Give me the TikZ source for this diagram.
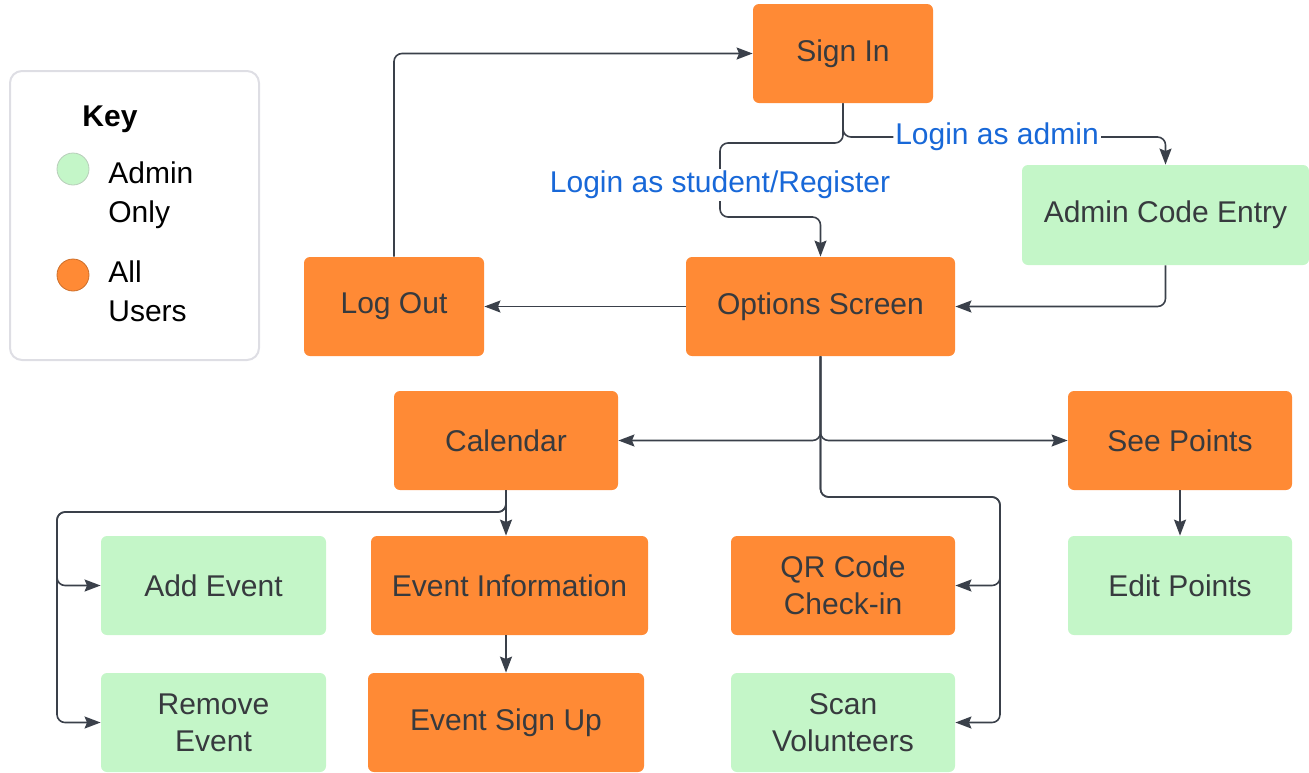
\documentclass[tikz,border=0pt]{standalone}
\usepackage{fontspec}
\setmainfont{Liberation Sans}
\usetikzlibrary{arrows.meta}
\definecolor{allorange}{RGB}{255,138,53}
\definecolor{admingreen}{RGB}{196,246,200}
\definecolor{tagblue}{RGB}{24,104,216}
\definecolor{linkgray}{RGB}{58,64,74}
\definecolor{textgray}{RGB}{55,58,62}
\definecolor{keygray}{RGB}{222,222,228}
\begin{document}
\begin{tikzpicture}[x=0.5pt, y=-0.5pt, font=\fontsize{15}{18.5}\selectfont,
		screen/.style={rounded corners=3pt, minimum height=49.5pt, inner sep=0pt, align=center, text=textgray},
		allusers/.style={screen, fill=allorange},
		adminonly/.style={screen, fill=admingreen},
		link/.style={draw=linkgray, line width=0.8pt, rounded corners=4pt, -{Stealth[length=8pt, width=6pt, inset=1.2pt]}},
		tag/.style={fill=white, text=tagblue, inner sep=1pt}]
			\useasboundingbox (0,0) rectangle (1309,772);
			\node[draw=keygray, line width=1pt, rounded corners=6pt, minimum width=124.5pt, minimum height=144.5pt] (key) at (134.5,215.5) {};
			\node[font=\fontsize{15}{18.5}\selectfont\bfseries] (keytitle) at (110,119) {Key};
			\node[circle, fill=admingreen, draw=admingreen!70!black!60, minimum size=16pt, inner sep=0pt] (admindot) at (73,169) {};
			\node[circle, fill=allorange, draw=allorange!80!black, minimum size=16pt, inner sep=0pt] (alldot) at (73,275) {};
			\node[anchor=west, align=left, inner sep=0pt, font=\fontsize{15}{19.5}\selectfont] (admintext) at (108,195.5) {Admin\\Only};
			\node[anchor=west, align=left, inner sep=0pt, font=\fontsize{15}{19.5}\selectfont] (alltext) at (108,291.5) {All\\Users};
			\node[allusers, minimum width=90pt] (signin) at (843,53.5) {Sign In};
			\node[allusers, minimum width=90pt] (logout) at (394,306.5) {Log Out};
			\node[allusers, minimum width=134.5pt] (options) at (820.5,306.5) {Options Screen};
			\node[adminonly, minimum width=143.5pt, minimum height=50pt] (admincode) at (1165.5,215) {Admin Code Entry};
			\node[allusers, minimum width=112pt] (calendar) at (506,440.5) {Calendar};
			\node[allusers, minimum width=112pt] (seepoints) at (1180,440.5) {See Points};
			\node[adminonly, minimum width=112.5pt] (addevent) at (213.5,585.5) {Add Event};
			\node[allusers, minimum width=138.5pt] (eventinfo) at (509.5,585.5) {Event Information};
			\node[allusers, minimum width=112pt] (qrcode) at (843,585.5) {QR Code\\Check-in};
			\node[adminonly, minimum width=112pt] (editpoints) at (1180,585.5) {Edit Points};
			\node[adminonly, minimum width=112.5pt] (removeevent) at (213.5,722.5) {Remove\\Event};
			\node[allusers, minimum width=138pt] (signup) at (506,722.5) {Event Sign Up};
			\node[adminonly, minimum width=112pt] (scan) at (843,722.5) {Scan\\Volunteers};
			\coordinate (studentbend) at (720,143);
			\coordinate (adminbend) at (997,137);
			\coordinate (eventsplit) at (57,512);
			\coordinate (scansplit) at (1000,497);
			\draw[link] (logout.north) |- (signin.west);
			\draw[link] (signin.south) |- (adminbend) node[tag] {Login as admin} -| (admincode.north);
			\draw[link] (signin.south) |- (studentbend) -- (720,185) node[tag] {Login as student/Register} |- (820.5,217) -- (options.north);
			\draw[link] (admincode.south) |- (options.east);
			\draw[link] (options.west) -- (logout.east);
			\draw[link] (options.south) |- (calendar.east);
			\draw[link] (options.south) |- (seepoints.west);
			\draw[link] (options.south) |- (scansplit) |- (qrcode.east);
			\draw[link] (options.south) |- (scansplit) |- (scan.east);
			\draw[link] (calendar.south) -- (calendar.south |- eventinfo.north);
			\draw[link] (calendar.south) |- (eventsplit) |- (addevent.west);
			\draw[link] (calendar.south) |- (eventsplit) |- (removeevent.west);
			\draw[link] (eventinfo.south -| signup.north) -- (signup.north);
			\draw[link] (seepoints.south) -- (editpoints.north);
		\end{tikzpicture}
\end{document}
